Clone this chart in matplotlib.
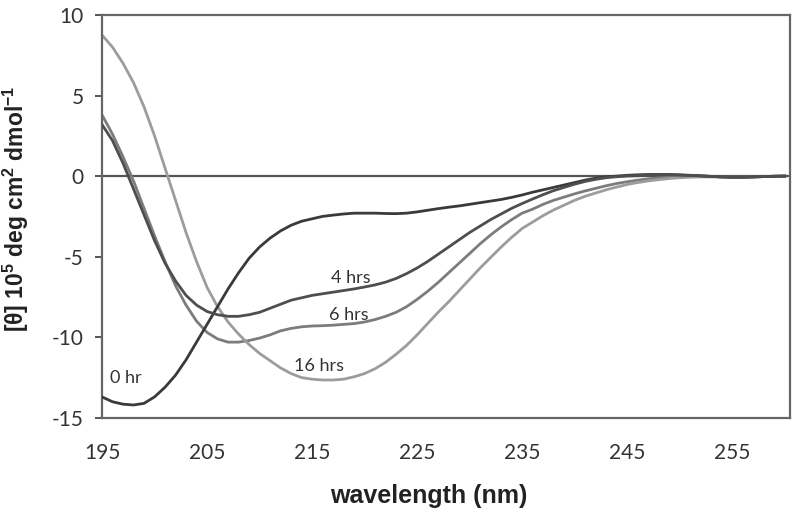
import matplotlib
matplotlib.use("Agg")
import matplotlib.pyplot as plt

plt.rcParams['mathtext.fontset'] = 'custom'
plt.rcParams['mathtext.bf'] = 'Liberation Sans:bold'
plt.rcParams['mathtext.rm'] = 'Liberation Sans:bold'

wavelength = list(range(195, 261))

hr_0 = [-13.7, -14.0, -14.15, -14.2, -14.1, -13.7, -13.1, -12.35, -11.4, -10.3,
        -9.2, -8.1, -7.0, -6.0, -5.1, -4.4, -3.85, -3.4, -3.05, -2.8,
        -2.65, -2.5, -2.42, -2.35, -2.3, -2.3, -2.3, -2.32, -2.33, -2.3,
        -2.22, -2.12, -2.02, -1.93, -1.85, -1.75, -1.65, -1.55, -1.45, -1.32,
        -1.17, -1.0, -0.85, -0.7, -0.55, -0.4, -0.25, -0.13, -0.05, 0.0,
        0.05, 0.08, 0.1, 0.1, 0.1, 0.08, 0.05, 0.02, -0.02, -0.05,
        -0.07, -0.07, -0.05, -0.03, -0.01, 0.0]

hrs_4 = [3.2, 2.2, 0.8, -0.8, -2.4, -4.0, -5.4, -6.5, -7.4, -8.0,
         -8.4, -8.6, -8.7, -8.7, -8.6, -8.45, -8.2, -7.95, -7.7, -7.55,
         -7.4, -7.3, -7.2, -7.1, -7.0, -6.88, -6.75, -6.58, -6.35, -6.05,
         -5.7, -5.3, -4.85, -4.4, -3.95, -3.5, -3.1, -2.7, -2.35, -2.0,
         -1.7, -1.42, -1.15, -0.9, -0.7, -0.5, -0.33, -0.2, -0.1, -0.04,
         0.0, 0.02, 0.05, 0.07, 0.08, 0.06, 0.04, 0.01, -0.02, -0.05,
         -0.06, -0.06, -0.05, -0.03, -0.01, 0.0]

hrs_6 = [3.8, 2.6, 1.2, -0.3, -2.0, -3.7, -5.3, -6.8, -8.0, -9.0,
         -9.7, -10.1, -10.3, -10.3, -10.2, -10.05, -9.85, -9.6, -9.45, -9.35,
         -9.3, -9.28, -9.25, -9.2, -9.15, -9.05, -8.9, -8.7, -8.45, -8.1,
         -7.65, -7.15, -6.6, -6.0, -5.4, -4.8, -4.2, -3.65, -3.15, -2.7,
         -2.3, -2.05, -1.75, -1.5, -1.3, -1.1, -0.92, -0.76, -0.6, -0.46,
         -0.35, -0.25, -0.17, -0.1, -0.06, -0.03, 0.0, 0.0, -0.02, -0.05,
         -0.07, -0.07, -0.05, -0.03, -0.01, 0.0]

hrs_16 = [8.75, 8.0, 7.0, 5.8, 4.3, 2.5, 0.5, -1.5, -3.5, -5.3,
          -6.9, -8.1, -9.05, -9.8, -10.45, -11.0, -11.45, -11.9, -12.25, -12.5,
          -12.6, -12.65, -12.65, -12.6, -12.45, -12.25, -11.95, -11.55, -11.05, -10.5,
          -9.85, -9.15, -8.45, -7.8, -7.1, -6.4, -5.7, -5.05, -4.4, -3.8,
          -3.25, -2.85, -2.45, -2.1, -1.8, -1.5, -1.25, -1.05, -0.85, -0.68,
          -0.52, -0.4, -0.3, -0.22, -0.15, -0.1, -0.07, -0.05, -0.05, -0.06,
          -0.07, -0.07, -0.05, -0.03, -0.01, 0.0]

xticks = [195, 205, 215, 225, 235, 245, 255]
yticks = [-15, -10, -5, 0, 5, 10]

fig = plt.figure(figsize=(8, 5.14), dpi=100)
ax = fig.add_axes([0.1275, 0.187, 0.86, 0.784])

ax.axhline(0, color="#555555", lw=1.6, zorder=1)
ax.plot(wavelength, hr_0, color="#3a3a3a", lw=2.0, zorder=3)
ax.plot(wavelength, hrs_4, color="#4e4e4e", lw=2.0, zorder=3)
ax.plot(wavelength, hrs_6, color="#7c7c7c", lw=2.0, zorder=2)
ax.plot(wavelength, hrs_16, color="#9c9c9c", lw=2.0, zorder=2)

ax.set_xlim(195, 260.5)
ax.set_ylim(-15, 10)
ax.set_xticks(xticks)
ax.set_yticks(yticks)
ax.set_xticklabels([str(t) for t in xticks], fontsize=15, family="Lato", color="#333333")
ax.set_yticklabels([str(t) for t in yticks], fontsize=15, family="Lato", color="#333333")
ax.tick_params(axis="x", length=0, pad=18)
ax.tick_params(axis="y", length=5, width=1.4, color="#555555", pad=8)
for s in ax.spines.values():
    s.set_color("#666666")
    s.set_linewidth(1.6)

lab = dict(fontsize=13, family="Lato", color="#333333", ha="center", va="center")
ax.text(197.3, -12.5, "0 hr", **lab)
ax.text(218.7, -6.3, "4 hrs", **lab)
ax.text(218.5, -8.6, "6 hrs", **lab)
ax.text(215.7, -11.8, "16 hrs", **lab)

ax.set_xlabel("wavelength (nm)", fontsize=18, family="Liberation Sans", fontweight="bold",
              color="#222222")
ax.xaxis.set_label_coords(0.475, -0.163)
ax.set_ylabel(r"[θ] 10$^{\mathbf{5}}$ deg cm$^{\mathbf{2}}$ dmol$^{\mathbf{-1}}$", fontsize=16.5,
              family="Liberation Sans", fontweight="bold", color="#222222")
ax.yaxis.set_label_coords(-0.103, 0.52)

fig.savefig("out.png", dpi=100)
